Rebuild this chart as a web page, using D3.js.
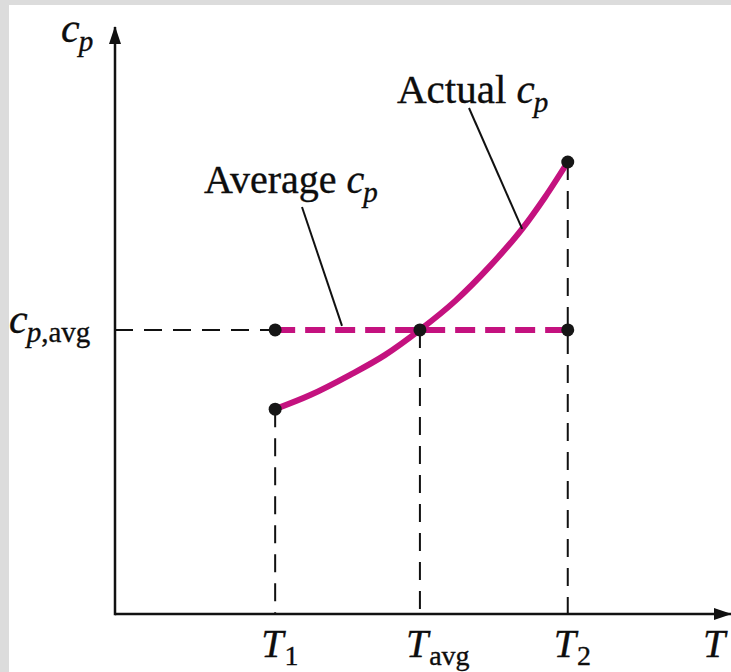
<!DOCTYPE html>
<html>
<head>
<meta charset="utf-8">
<script src="https://cdn.jsdelivr.net/npm/d3@7/dist/d3.min.js"></script>
<style>
  html, body { margin: 0; padding: 0; background: #dcdcdc; }
  #chart { position: absolute; left: 9px; top: 5px; }
  text { font-family: "Liberation Serif", "Times New Roman", serif; fill: #0d0d0d; stroke: #0d0d0d; stroke-width: 0.35px; }
  .var { font-style: italic; }
</style>
</head>
<body>
<div id="chart"></div>
<script>
const width = 731, height = 672;
const offX = 9, offY = 5;   // the grey frame round the figure

// values (arbitrary units, axes run 0..100)
const tickNames = ['1', 'avg', '2'];
const tickValues = [26.0, 49.5, 73.5];
const cpAvg = 48.4;
const actualT = [26.0, 31.7, 38.1, 43.8, 49.5, 55.2, 60.9, 66.1, 69.8, 73.5];
const actualCp = [34.9, 37.3, 40.7, 44.1, 48.4, 53.3, 59.3, 65.6, 71.0, 77.0];
const dotT = [26.0, 26.0, 49.5, 73.5, 73.5];
const dotCp = [34.9, 48.4, 48.4, 48.4, 77.0];

const magenta = '#c4127f';

const xScale = d3.scaleLinear().domain([0, 100]).range([115 - offX, 731 - offX]);
const yScale = d3.scaleLinear().domain([0, 100]).range([614 - offY, 27 - offY]);

const svg = d3.select('#chart').append('svg')
    .attr('width', width - offX)
    .attr('height', height - offY)
    .style('background', '#fff')
    .style('display', 'block');

const defs = svg.append('defs');
defs.append('marker')
    .attr('id', 'arrow')
    .attr('viewBox', '0 0 18 12')
    .attr('refX', 17).attr('refY', 6)
    .attr('markerWidth', 18).attr('markerHeight', 12)
    .attr('markerUnits', 'userSpaceOnUse')
    .attr('orient', 'auto')
    .append('path')
    .attr('d', 'M0,0 L18,6 L0,12 Z')
    .attr('fill', '#111');

// black dashed guide lines
const guides = svg.append('g')
    .attr('stroke', '#111')
    .attr('stroke-width', 2)
    .attr('stroke-dasharray', '18,11')
    .attr('fill', 'none');
guides.append('line')
    .attr('x1', xScale(0)).attr('x2', xScale(tickValues[0]))
    .attr('y1', yScale(cpAvg)).attr('y2', yScale(cpAvg));
guides.append('line')
    .attr('x1', xScale(tickValues[0])).attr('x2', xScale(tickValues[0]))
    .attr('y1', yScale(actualCp[0])).attr('y2', yScale(0));
guides.append('line')
    .attr('x1', xScale(tickValues[1])).attr('x2', xScale(tickValues[1]))
    .attr('y1', yScale(cpAvg)).attr('y2', yScale(0));
guides.append('line')
    .attr('x1', xScale(tickValues[2])).attr('x2', xScale(tickValues[2]))
    .attr('y1', yScale(actualCp[actualCp.length - 1])).attr('y2', yScale(0));

// axes with arrow heads
svg.append('line')
    .attr('x1', xScale(0)).attr('y1', yScale(0))
    .attr('x2', xScale(100)).attr('y2', yScale(0))
    .attr('stroke', '#111').attr('stroke-width', 2.5)
    .attr('marker-end', 'url(#arrow)');
svg.append('line')
    .attr('x1', xScale(0)).attr('y1', yScale(0) + 1.2)
    .attr('x2', xScale(0)).attr('y2', yScale(100))
    .attr('stroke', '#111').attr('stroke-width', 2.5)
    .attr('marker-end', 'url(#arrow)');

// average cp (magenta dashed)
svg.append('line')
    .attr('x1', xScale(tickValues[0])).attr('x2', xScale(tickValues[2]))
    .attr('y1', yScale(cpAvg)).attr('y2', yScale(cpAvg))
    .attr('stroke', magenta).attr('stroke-width', 6)
    .attr('stroke-dasharray', '20,10');

// actual cp curve
const line = d3.line()
    .x((d, i) => xScale(actualT[i]))
    .y((d, i) => yScale(actualCp[i]))
    .curve(d3.curveMonotoneX);
svg.append('path')
    .datum(actualCp)
    .attr('d', line)
    .attr('fill', 'none')
    .attr('stroke', magenta)
    .attr('stroke-width', 6);

// dots
svg.selectAll('circle.dot')
    .data(dotT)
    .enter()
    .append('circle')
    .attr('class', 'dot')
    .attr('cx', (d) => xScale(d))
    .attr('cy', (d, i) => yScale(dotCp[i]))
    .attr('r', 6.5)
    .attr('fill', '#161616');

// leader lines
svg.append('line')
    .attr('x1', 469 - offX).attr('y1', 108 - offY)
    .attr('x2', xScale(66.1)).attr('y2', yScale(65.6))
    .attr('stroke', '#111').attr('stroke-width', 2);
svg.append('line')
    .attr('x1', 302 - offX).attr('y1', 207 - offY)
    .attr('x2', 342 - offX).attr('y2', yScale(cpAvg) - 4)
    .attr('stroke', '#111').attr('stroke-width', 2);

// helper: main text with subscript
function label(x, y, parts, anchor) {
    const t = svg.append('text')
        .attr('x', x - offX).attr('y', y - offY)
        .attr('text-anchor', anchor || 'start');
    parts.forEach(function(p) {
        const s = t.append('tspan').text(p.text);
        if (p.italic) s.attr('class', 'var');
        s.style('font-size', (p.size || 40) + 'px');
        if (p.dy) s.attr('dy', p.dy);
        if (p.dx) s.attr('dx', p.dx);
    });
    return t;
}

label(61, 42, [{text: 'c', italic: true, size: 42}, {text: 'p', italic: true, size: 29, dy: 9, dx: -1}]);
label(9, 333, [{text: 'c', italic: true, size: 42}, {text: 'p', italic: true, size: 29, dy: 9, dx: -1},
               {text: ',avg', size: 29}]);
label(397, 103, [{text: 'Actual ', size: 41}, {text: 'c', italic: true, size: 41},
                 {text: 'p', italic: true, size: 29, dy: 9, dx: -1}]);
label(204, 193, [{text: 'Average ', size: 40}, {text: 'c', italic: true, size: 40},
                 {text: 'p', italic: true, size: 29, dy: 9, dx: -1}]);

// x tick labels
tickValues.forEach(function(v, i) {
    label(xScale(v) + offX - 14, 657, [{text: 'T', italic: true, size: 40},
        {text: tickNames[i], size: 28, dy: 8, dx: 1}]);
});
label(703, 657, [{text: 'T', italic: true, size: 40}]);
</script>
</body>
</html>
